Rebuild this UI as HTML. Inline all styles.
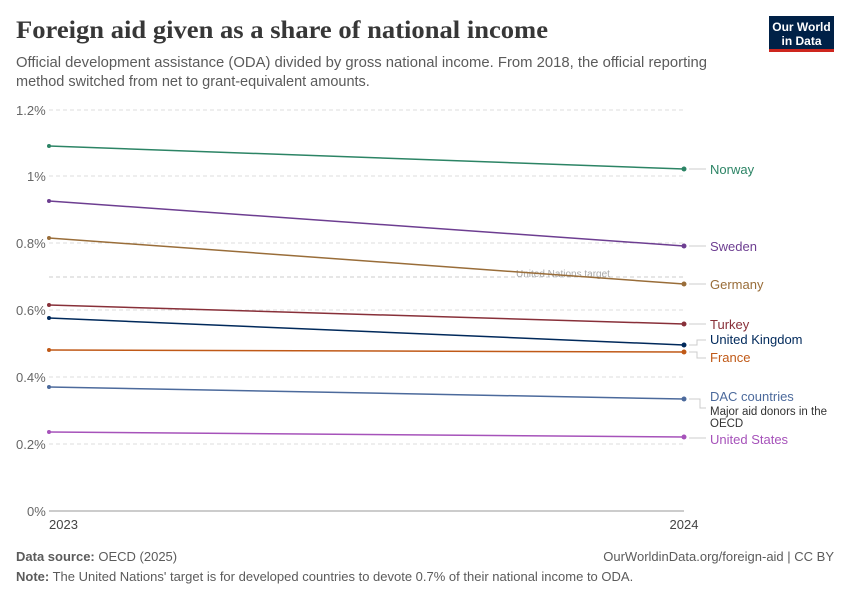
<!DOCTYPE html>
<html><head><meta charset="utf-8"><style>
body{margin:0;background:#fff;width:850px;height:600px;overflow:hidden;font-family:"Liberation Sans",sans-serif}
</style></head><body>
<svg width="850" height="600" xmlns="http://www.w3.org/2000/svg" font-family="Liberation Sans, sans-serif">
<text x="16" y="38" font-family="Liberation Serif, serif" font-size="25" font-weight="bold" fill="#373737" textLength="532" lengthAdjust="spacingAndGlyphs">Foreign aid given as a share of national income</text>
<text x="16" y="67" font-size="14.5" fill="#5b5b5b" textLength="691" lengthAdjust="spacingAndGlyphs">Official development assistance (ODA) divided by gross national income. From 2018, the official reporting</text>
<text x="16" y="86" font-size="14.5" fill="#5b5b5b">method switched from net to grant-equivalent amounts.</text>
<rect x="769" y="16" width="65" height="35" fill="#002147"/>
<rect x="769" y="49" width="65" height="3" fill="#ce261e"/>
<text x="801.5" y="31" font-size="12" font-weight="bold" fill="#fff" text-anchor="middle">Our World</text>
<text x="801.5" y="45" font-size="12" font-weight="bold" fill="#fff" text-anchor="middle">in Data</text>
<g stroke="#ddd" stroke-dasharray="4,3" stroke-width="1">
<line x1="49" x2="684" y1="110" y2="110"/><line x1="49" x2="684" y1="176" y2="176"/>
<line x1="49" x2="684" y1="243" y2="243"/><line x1="49" x2="684" y1="310" y2="310"/>
<line x1="49" x2="684" y1="377" y2="377"/><line x1="49" x2="684" y1="444" y2="444"/>
<line x1="49" x2="684" y1="277" y2="277" stroke="#ccc"/>
</g>
<line x1="49" x2="684" y1="511" y2="511" stroke="#999"/>
<g font-size="13" fill="#666">
<text x="16" y="115">1.2%</text><text x="27" y="181">1%</text><text x="16" y="248">0.8%</text>
<text x="16" y="315">0.6%</text><text x="16" y="382">0.4%</text><text x="16" y="449">0.2%</text>
<text x="27" y="516">0%</text>
<text x="49" y="529" fill="#444">2023</text>
<text x="684" y="529" text-anchor="middle" fill="#444">2024</text>
</g>
<text x="516" y="277" font-size="10" fill="#aaa">United Nations target</text>
<g stroke-width="1.5" fill="none">
<line x1="49" y1="146" x2="684" y2="169" stroke="#2c8465"/>
<line x1="49" y1="201" x2="684" y2="246" stroke="#6d3e91"/>
<line x1="49" y1="238" x2="684" y2="284" stroke="#996d39"/>
<line x1="49" y1="305" x2="684" y2="324" stroke="#883039"/>
<line x1="49" y1="318" x2="684" y2="345" stroke="#00295b"/>
<line x1="49" y1="350" x2="684" y2="352" stroke="#c05917"/>
<line x1="49" y1="387" x2="684" y2="399" stroke="#4c6a9c"/>
<line x1="49" y1="432" x2="684" y2="437" stroke="#a652ba"/>
</g>
<g>
<circle cx="49" cy="146" r="2" fill="#2c8465"/><circle cx="684" cy="169" r="2.5" fill="#2c8465"/>
<circle cx="49" cy="201" r="2" fill="#6d3e91"/><circle cx="684" cy="246" r="2.5" fill="#6d3e91"/>
<circle cx="49" cy="238" r="2" fill="#996d39"/><circle cx="684" cy="284" r="2.5" fill="#996d39"/>
<circle cx="49" cy="305" r="2" fill="#883039"/><circle cx="684" cy="324" r="2.5" fill="#883039"/>
<circle cx="49" cy="318" r="2" fill="#00295b"/><circle cx="684" cy="345" r="2.5" fill="#00295b"/>
<circle cx="49" cy="350" r="2" fill="#c05917"/><circle cx="684" cy="352" r="2.5" fill="#c05917"/>
<circle cx="49" cy="387" r="2" fill="#4c6a9c"/><circle cx="684" cy="399" r="2.5" fill="#4c6a9c"/>
<circle cx="49" cy="432" r="2" fill="#a652ba"/><circle cx="684" cy="437" r="2.5" fill="#a652ba"/>
</g>
<g stroke="#ccc" fill="none">
<line x1="689" y1="169" x2="706" y2="169"/><line x1="689" y1="246" x2="706" y2="246"/>
<line x1="689" y1="284" x2="706" y2="284"/><line x1="689" y1="324" x2="706" y2="324"/>
<polyline points="689,345 697,345 697,340 706,340"/>
<polyline points="689,352 697,352 697,358 706,358"/>
<polyline points="689,399 700,399 700,408 706,408"/>
<line x1="689" y1="438" x2="706" y2="438"/>
</g>
<g font-size="13">
<text x="710" y="174" fill="#2c8465">Norway</text>
<text x="710" y="251" fill="#6d3e91">Sweden</text>
<text x="710" y="289" fill="#996d39">Germany</text>
<text x="710" y="329" fill="#883039">Turkey</text>
<text x="710" y="344" fill="#00295b">United Kingdom</text>
<text x="710" y="362" fill="#c05917">France</text>
<text x="710" y="401" fill="#4c6a9c">DAC countries</text>
<text x="710" y="415" font-size="11.5" fill="#333">Major aid donors in the</text>
<text x="710" y="427" font-size="11.5" fill="#333">OECD</text>
<text x="710" y="444" fill="#a652ba">United States</text>
</g>
<g font-size="13" fill="#5b5b5b">
<text x="16" y="561"><tspan font-weight="bold">Data source:</tspan> OECD (2025)</text>
<text x="834" y="561" text-anchor="end">OurWorldinData.org/foreign-aid | CC BY</text>
<text x="16" y="581"><tspan font-weight="bold">Note:</tspan> The United Nations' target is for developed countries to devote 0.7% of their national income to ODA.</text>
</g>
</svg>
</body></html>
